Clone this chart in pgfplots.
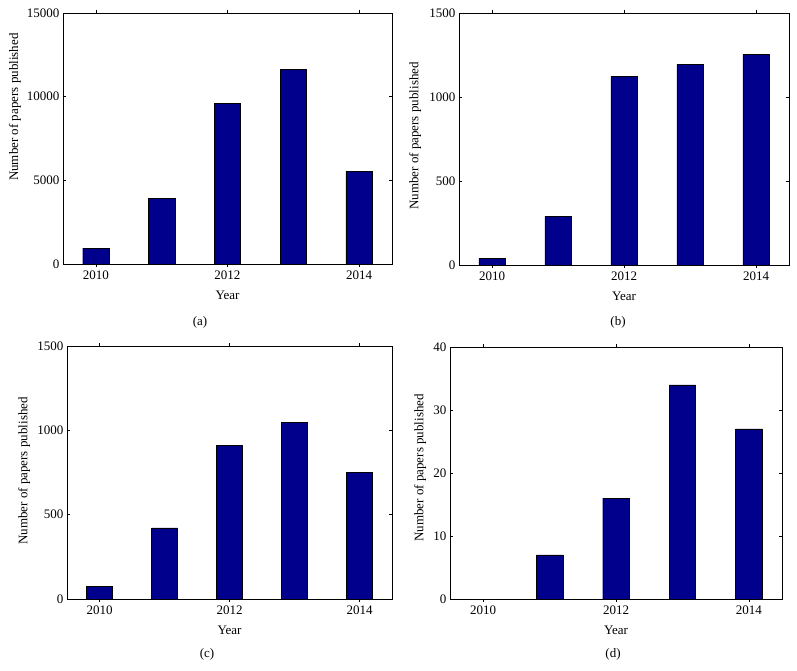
\documentclass[border=0pt]{standalone}
\usepackage{fontspec}
\setmainfont{Liberation Serif}
\usepackage{pgfplots}
\pgfplotsset{compat=1.18}
\definecolor{barblue}{RGB}{0,0,140}
\pgfplotsset{
 panel/.style={
  scale only axis, anchor=south west,
  xmin=2009.5, xmax=2014.5, ymin=0,
  xtick={2010,2012,2014},
  tick align=inside, major tick length=3pt,
  xticklabel style={/pgf/number format/1000 sep={}},
  yticklabel style={/pgf/number format/1000 sep={}},
  scaled y ticks=false,
  /pgf/number format/assume math mode=true,
  font=\fontsize{13}{15}\selectfont,
  tick label style={font=\fontsize{13}{15}\selectfont},
  label style={font=\fontsize{13}{15}\selectfont},
  xlabel={Year},
  ylabel={Number of papers published},
  xlabel style={at={(axis description cs:0.5,0)}, anchor=center, yshift=-31pt},
  ybar, bar width=0.4,
  axis line style={black, line width=0.6pt},
  every tick/.style={black, line width=0.5pt},
 },
 bars/.style={fill=barblue, draw=black, line width=0.4pt},
}
\begin{document}
\begin{tikzpicture}
\path[use as bounding box] (0,0) rectangle (797pt,670pt);
% (a)
\begin{axis}[panel, at={(63pt,406pt)}, width=329pt, height=251pt,
  ymax=15000, ytick={0,5000,10000,15000},
  ylabel style={at={(axis description cs:-0.146,0.625)}, anchor=center}]
\addplot[bars] coordinates {(2010,954) (2011,3934) (2012,9616) (2013,11623) (2014,5543)};
\end{axis}
% (b)
\begin{axis}[panel, at={(459pt,405pt)}, width=330pt, height=252pt,
  ymax=1500, ytick={0,500,1000,1500},
  ylabel style={at={(axis description cs:-0.133,0.512)}, anchor=center}]
\addplot[bars] coordinates {(2010,40) (2011,289) (2012,1121) (2013,1193) (2014,1252)};
\end{axis}
% (c)
\begin{axis}[panel, at={(67pt,71pt)}, width=325pt, height=253pt,
  ymax=1500, ytick={0,500,1000,1500},
  ylabel style={at={(axis description cs:-0.132,0.506)}, anchor=center}]
\addplot[bars] coordinates {(2010,73) (2011,421) (2012,909) (2013,1049) (2014,749)};
\end{axis}
% (d)
\begin{axis}[panel, at={(450pt,71pt)}, width=332pt, height=252pt,
  ymax=40, ytick={0,10,20,30,40},
  ylabel style={at={(axis description cs:-0.09,0.52)}, anchor=center}]
\addplot[bars] coordinates {(2010,0) (2011,7) (2012,16) (2013,34) (2014,27)};
\end{axis}
\node[font=\fontsize{13}{15}\selectfont] at (200pt,348pt) {(a)};
\node[font=\fontsize{13}{15}\selectfont] at (618pt,348pt) {(b)};
\node[font=\fontsize{13}{15}\selectfont] at (207pt,16pt) {(c)};
\node[font=\fontsize{13}{15}\selectfont] at (613pt,16pt) {(d)};
\end{tikzpicture}
\end{document}
